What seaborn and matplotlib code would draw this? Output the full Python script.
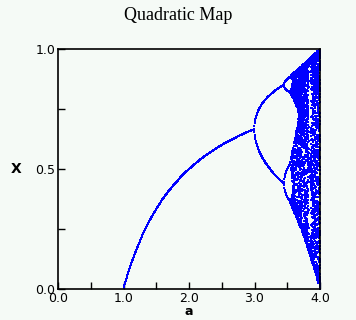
import numpy as np
import pandas as pd
import matplotlib
matplotlib.use("Agg")
import matplotlib.pyplot as plt
import seaborn as sns
from matplotlib.ticker import MultipleLocator

# Chart parameters (quadratic / logistic map x -> a*x*(1-x))
a_start, a_stop, a_step = 1.0, 4.0, 0.005
transient_iters = 400
kept_iters = 45
x_ticks = [0.0, 1.0, 2.0, 3.0, 4.0]
x_tick_labels = ["0.0", "1.0", "2.0", "3.0", "4.0"]
y_ticks = [0.0, 0.5, 1.0]
y_tick_labels = ["0.0", "0.5", "1.0"]
title = "Quadratic Map"
x_label = "a"
y_label = "X"

a_vals = np.arange(a_start, a_stop + a_step / 2, a_step)
x = np.full_like(a_vals, 0.3)
for _ in range(transient_iters):
    x = a_vals * x * (1 - x)
rows_a, rows_x = [], []
for _ in range(kept_iters):
    x = a_vals * x * (1 - x)
    rows_a.append(a_vals.copy())
    rows_x.append(x.copy())
df = pd.DataFrame({"a": np.concatenate(rows_a), "X": np.concatenate(rows_x)})

bg = "#f5faf6"
sns.set_theme(style="white")
plt.rcParams["font.family"] = ["DejaVu Sans"]
plt.rcParams["text.color"] = "black"
plt.rcParams["axes.labelcolor"] = "black"
fig = plt.figure(figsize=(3.56, 3.2), dpi=100, facecolor=bg)
ax = fig.add_axes([58 / 356, 1 - 289 / 320, 262 / 356, 240 / 320])
ax.set_facecolor(bg)
sns.scatterplot(data=df, x="a", y="X", ax=ax, s=1.1, marker="s",
                linewidth=0, color="#0000ff", legend=False)
ax.set_xlim(0, 4)
ax.set_ylim(0, 1)
ax.set_xticks(x_ticks)
ax.set_xticklabels(x_tick_labels)
ax.set_yticks(y_ticks)
ax.set_yticklabels(y_tick_labels)
ax.xaxis.set_minor_locator(MultipleLocator(0.5))
ax.yaxis.set_minor_locator(MultipleLocator(0.25))
ax.tick_params(which="both", direction="in", bottom=True, left=True,
               top=False, right=False, length=5, width=1, colors="black",
               labelsize=9, pad=2)
for s in ax.spines.values():
    s.set_color("black")
    s.set_linewidth(1.2)
    s.set_zorder(5)
ax.set_xlabel(x_label, fontsize=9, fontweight="bold", labelpad=0, color="black")
ax.set_ylabel(y_label, fontsize=10, fontweight="bold", rotation=0, labelpad=14,
              va="center", color="black")
fig.text(0.5, 1 - 16 / 320, title, ha="center", va="center",
         fontsize=13, family="Liberation Serif", color="black")
fig.savefig("out.png", dpi=100, facecolor=bg)
